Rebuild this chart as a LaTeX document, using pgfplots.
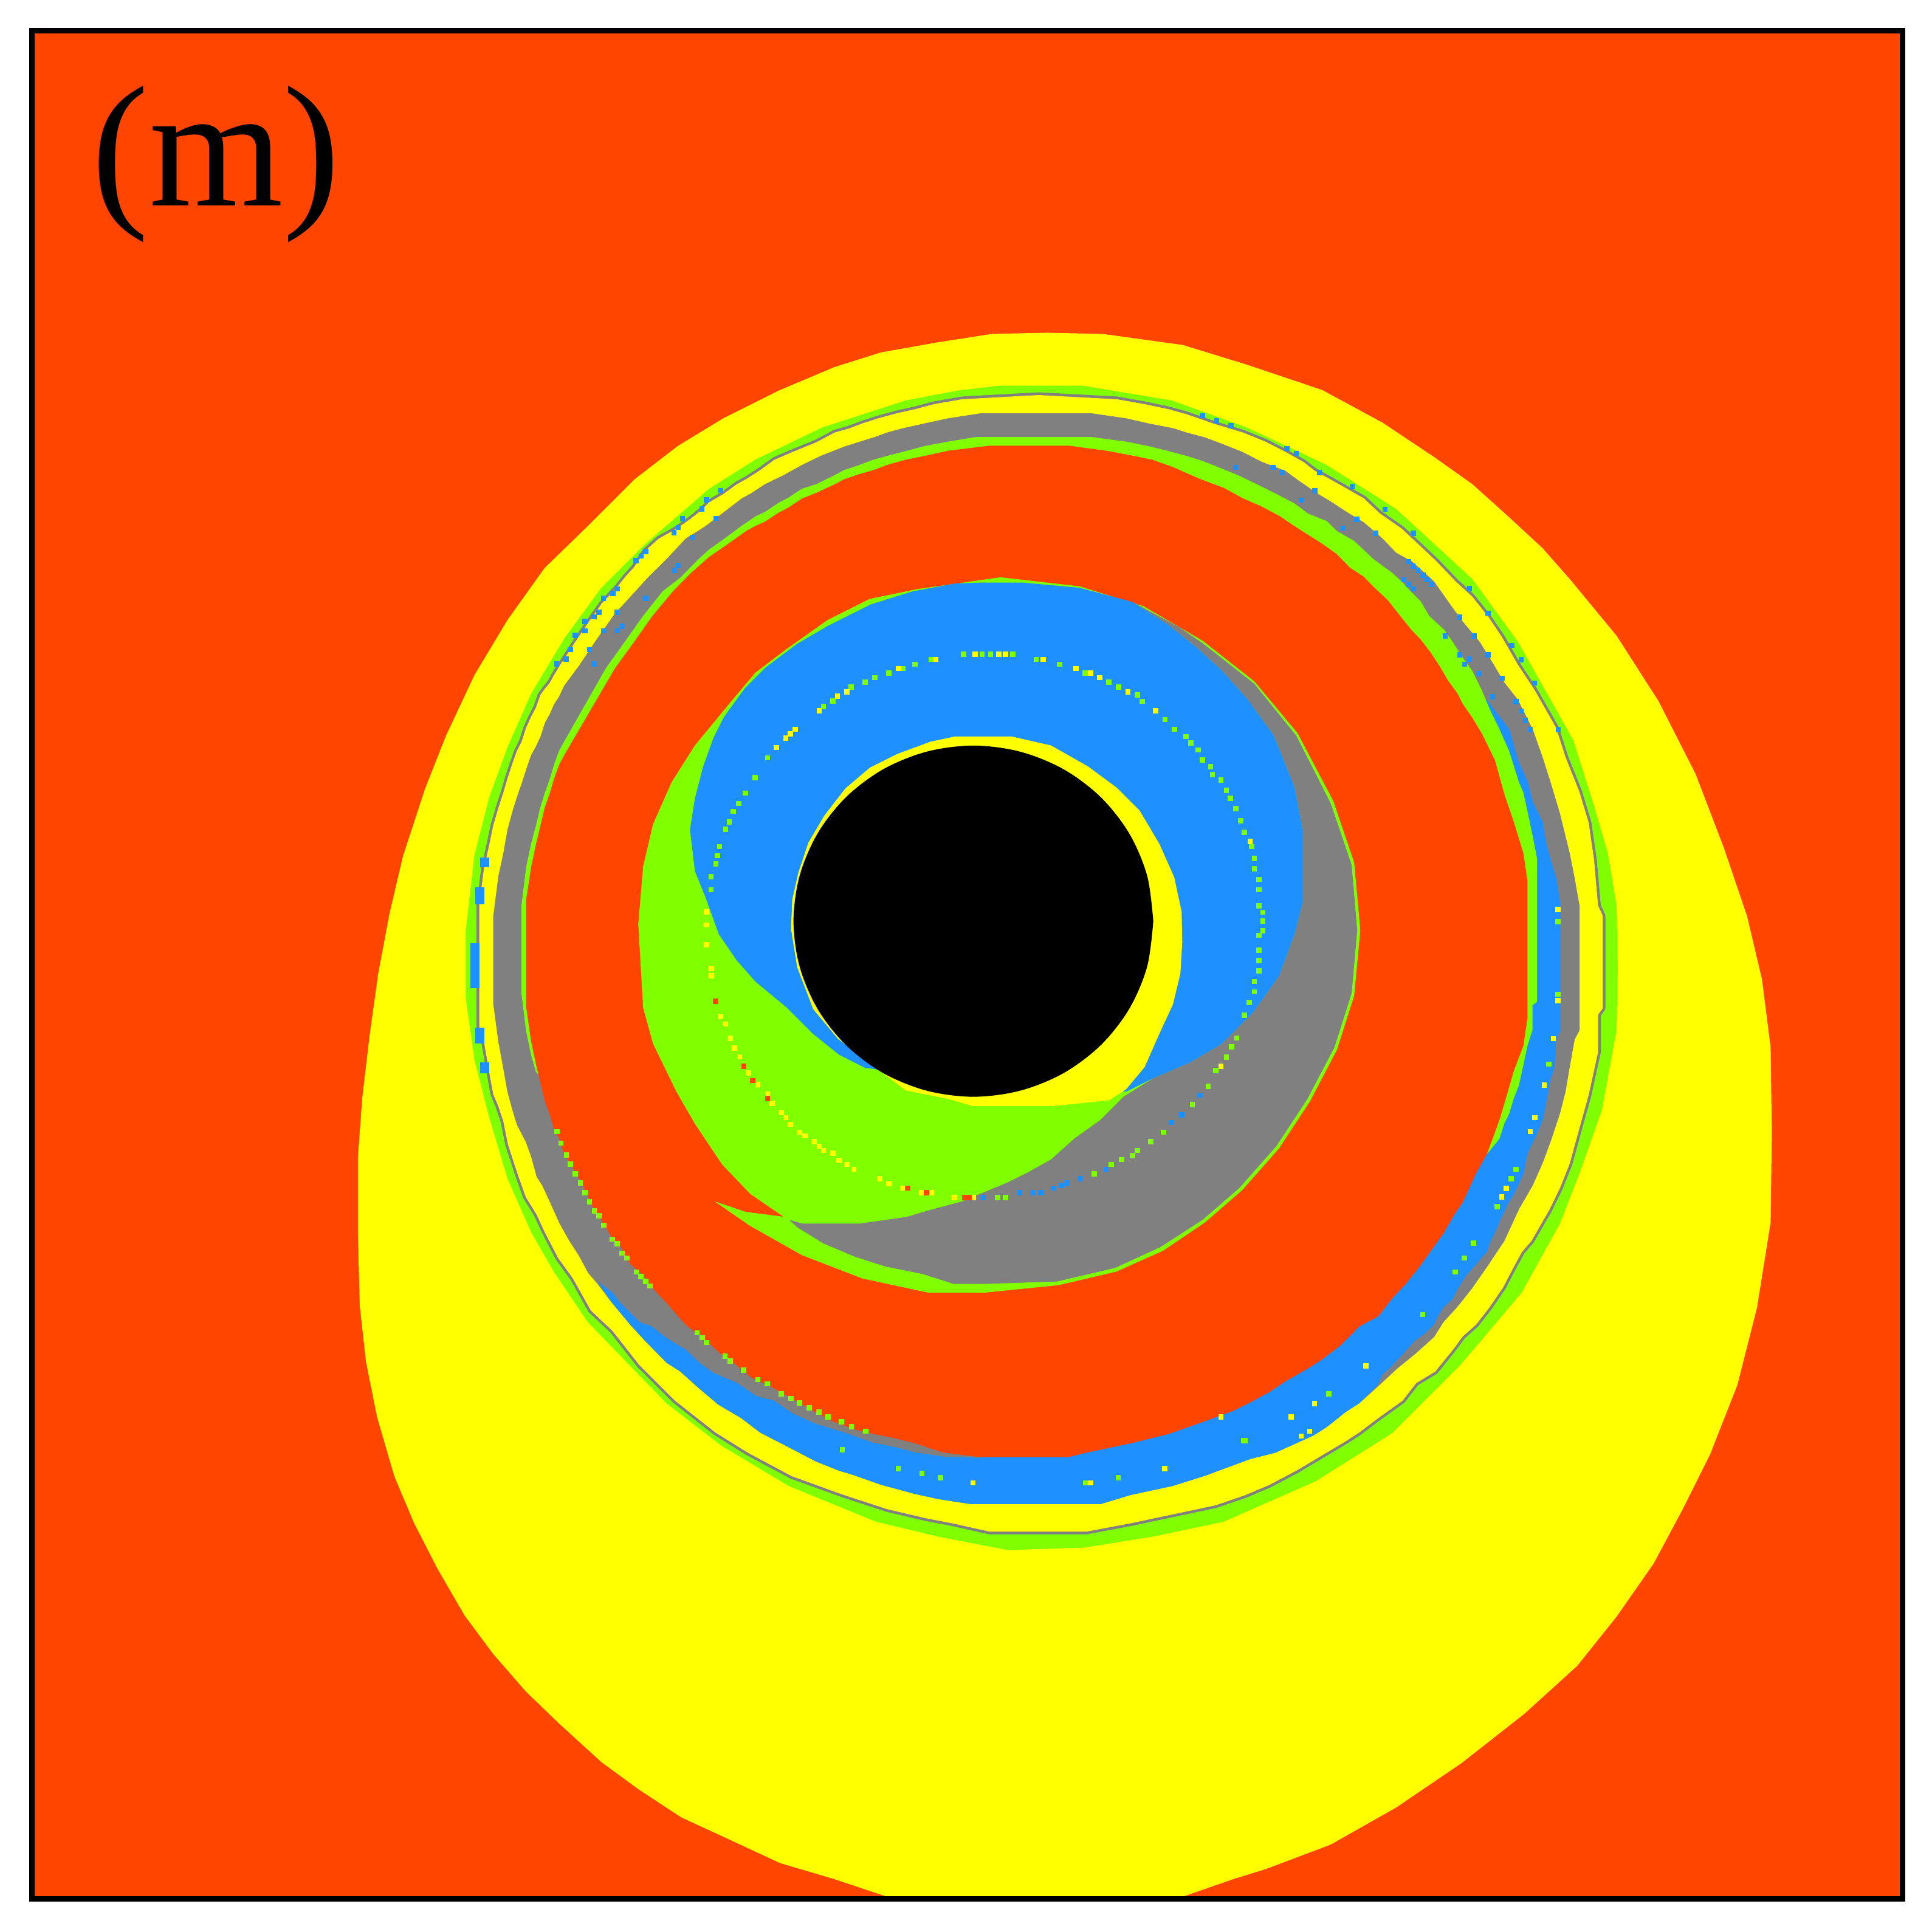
\documentclass[border=0pt]{standalone}
\usepackage{fontspec}
\setmainfont{Liberation Serif}
\usepackage{pgfplots}
\usepackage{pgfplotstable}
\pgfplotsset{compat=1.18}
\definecolor{bgorange}{HTML}{FF4500}
\definecolor{ylw}{HTML}{FFFF00}
\definecolor{lime}{HTML}{7FFF00}
\definecolor{dblue}{HTML}{1E90FF}
\definecolor{rgray}{HTML}{808080}
\pgfplotsset{
    region/.style={fill=#1, draw=none, forget plot},
    pix/.style={only marks, mark=square*, mark size=0.47pt, color=#1, mark options={line width=0pt}, forget plot},
}

% inner yellow ring, outer edge (used twice: gray halo, then yellow fill)
\pgfplotstableread[row sep=\\]{
x y\\
780.7 324\\ 843 320.6\\ 906.5 324\\ 929 328\\ 948 332\\ 962.5 336\\ 985.6 344\\ 1008.8 351\\ 1027 358.4\\ 1043 366.6\\ 1058 375\\ 1067 382\\ 1085 392\\ 1107 404.5\\ 1120 416.8\\ 1137.6 429\\ 1153 443.4\\ 1166 455.7\\ 1181.6 472\\ 1195 484.3\\ 1208 500.7\\ 1219 517\\ 1232 539.6\\ 1245.5 560\\ 1263 590.8\\ 1270.6 614.6\\ 1281.6 642\\ 1289.3 667.4\\ 1293.7 697.6\\ 1297 735\\ 1300.7 743\\ 1300.7 818.4\\ 1297 823.5\\ 1297 853.7\\ 1293.7 868.8\\ 1289.3 888.9\\ 1281.6 916.6\\ 1274 944.3\\ 1266 964.4\\ 1257.4 982\\ 1243 1007\\ 1235.3 1016\\ 1228.7 1028\\ 1220 1044.7\\ 1208.9 1061\\ 1198 1075\\ 1187 1084.8\\ 1180.3 1094\\ 1165 1113\\ 1149.4 1122.5\\ 1138.4 1136.7\\ 1118.6 1150.9\\ 1103 1162.7\\ 1092.2 1169.7\\ 1072.4 1181.5\\ 1052.6 1193.3\\ 1030.5 1205\\ 1010.7 1213.4\\ 986.5 1221.7\\ 917.6 1236.3\\ 882 1243\\ 803 1243\\ 772.9 1236.3\\ 751.5 1232.2\\ 720 1224.8\\ 697.4 1217.4\\ 684 1213\\ 642.5 1198\\ 607 1179\\ 580.8 1162.7\\ 547.8 1136.7\\ 519 1108\\ 497 1080\\ 479.5 1063.5\\ 465 1037.6\\ 453 1021\\ 442 999.8\\ 435.5 985.7\\ 426.7 971.5\\ 420 952.6\\ 412.3 929\\ 408.5 910\\ 404.4 897.7\\ 400.3 888\\ 397 870\\ 392.9 846\\ 389 833\\ 389 734\\ 392.9 704\\ 397 686\\ 400.3 670\\ 404.4 656\\ 408.5 643.4\\ 411.8 632\\ 415.9 619.5\\ 419.5 609.5\\ 423.3 602\\ 427 590.6\\ 431 581.8\\ 435 574.2\\ 438.6 564\\ 442.2 559\\ 446.3 554\\ 449.6 548\\ 453.8 541\\ 470.2 516\\ 476.8 506.3\\ 488.3 489.9\\ 500.7 476.7\\ 507.2 468.5\\ 514.6 460.3\\ 523.7 447\\ 534.4 437.3\\ 549.2 429\\ 560.7 420.9\\ 568.9 414.3\\ 575.5 407.7\\ 587 401\\ 598 393\\ 605.7 388.8\\ 617 381.5\\ 628.4 373.2\\ 643.5 366.7\\ 662.4 359\\ 670 355\\ 677.5 351\\ 688.8 347.8\\ 700 343.6\\ 712.7 339.5\\ 727.8 335.4\\ 743 332\\ 758 328\\
}\tabYout

\begin{document}
\begin{tikzpicture}
\begin{axis}[
    scale only axis,
    width=379.5pt,
    height=379pt,
    xmin=26, xmax=1544,
    ymin=25, ymax=1541,
    y dir=reverse,
    xtick=\empty, ytick=\empty,
    clip=false,
    axis on top,
    axis line style={black, line width=1.1pt},
    axis background/.style={fill=bgorange},
]
% page margins
\path (axis cs:0,0) rectangle (axis cs:1568,1568);

% big yellow blob
\addplot[region=ylw] coordinates {
(725,1541)(677,1525)(633,1512)(590,1492)(553,1475)(518,1452)(488,1430)(454,1399)(427,1373)(400,1342)(377,1311)(355,1273)(336,1236)(320,1198)(306,1150)(297,1105)(292,1060)(290.4,1000)(290.4,940)(294,891)(300,840)(307,790)(316,742)(327,695)(345,640)(362,597)(385,548)(412,503)(442,461)(477,427)(515,389)(550,362)(587,339.5)(632,317)(677,298)(715,286)(760,278)(805,271)(850,270)(895,271)(960,280)(1012,296)(1073,316.5)(1122,343)(1164,371)(1195,393)(1225,420)(1252,445)(1274,470)(1312,516)(1346,569)(1376,628)(1399,688)(1418,744)(1430,795)(1437,850)(1438,920)(1437,992)(1426,1061)(1410,1124)(1388,1180)(1365,1226)(1342,1269)(1312,1312)(1280,1352)(1237,1391)(1186,1431)(1133,1467)(1080,1497)(1027,1517)(1001,1525)(955,1541)
};

% outer green ring
\addplot[region=lime] coordinates {
(845,313)(879,313)(951,325)(1012,347)(1076,377)(1133,413)(1195,470)(1232,521)(1277,601)(1294,655)(1305,693)(1312,735)(1313,785)(1312,836)(1300,901)(1282,952)(1266,993)(1235,1049)(1185,1108)(1130,1163)(1068,1202)(993,1235)(936,1247)(880,1256)(818,1258)(761,1247)(711,1235)(640,1206)(585,1173)(541,1139)(508,1105)(477,1073)(450,1033)(431,1000)(412,957)(397,907)(385,860)(378,810)(378,755)(385,694)(397,647)(412,606)(431,563)(458,518)(488,477)(523,442)(575,397)(613,373)(667,347)(735,325)(777,317)(811,313)
};

% thin gray line, then the yellow ring
\addplot[fill=rgray, draw=rgray, line width=1.1pt, line join=round, forget plot] table[x=x,y=y]{\tabYout} -- cycle;
\addplot[region=ylw] table[x=x,y=y]{\tabYout};

% blue patches in the thin line on the left
\addplot[region=dblue] coordinates {(381.7,765.5)(389,765.5)(389,802)(381.7,802)};
\addplot[region=dblue] coordinates {(385.5,720)(392.9,720)(392.9,734)(385.5,734)};
\addplot[region=dblue] coordinates {(385.5,834)(392.9,834)(392.9,847)(385.5,847)};
\addplot[region=dblue] coordinates {(389.6,696)(397,696)(397,704)(389.6,704)};
\addplot[region=dblue] coordinates {(389.6,862)(397,862)(397,871)(389.6,871)};

% gray ring
\addplot[region=rgray] coordinates {
(796,335.4)(886,335.4)(914,339.5)(932,343.6)(952,347.5)(963,351)(978,355)(990,359.5)(1008,366.6)(1024,374.8)(1043,382)(1054,390)(1069,400.4)(1081,407.6)(1093.5,415.8)(1107,424)(1122,437)(1133,448.5)(1146,455.7)(1164,472)(1177,490.5)(1186,503)(1201,521)(1210,535.5)(1221,554)(1232,568)(1244,592)(1252,614.6)(1258.4,634.7)(1266,660)(1274,692.6)(1278,712.7)(1282,735.4)(1282,836)(1278,843.6)(1274,866)(1270.6,886)(1266,904)(1258.4,926.7)(1252,944)(1244,962)(1233,981)(1221,1007)(1207,1028)(1194.6,1045.8)(1182.5,1061)(1171.5,1073)(1164,1085)(1148.4,1099)(1134,1110.7)(1118.6,1125)(1103,1139)(1092,1146)(1077,1158)(1066,1165)(1035,1179)(1015,1184)(989,1193.6)(978,1197.7)(951.6,1206)(917.6,1213.3)(893,1220.7)(788,1220.7)(761.5,1216.6)(742.7,1212.5)(727.6,1208.4)(715,1205)(703.7,1201)(692.3,1197)(681,1193.6)(662,1186)(640,1174.5)(617,1162.7)(601.7,1151)(583,1140)(567.6,1127)(552,1113)(541,1106)(522.4,1087)(511.4,1075)(496,1056.5)(485,1042)(477.3,1033)(469.6,1018.7)(462,1007)(454,992.7)(446.5,976)(440,962)(435.5,955)(431,938.5)(426.7,926.7)(419.5,912.8)(415.9,901)(411.8,886)(408.5,867.5)(404.4,845)(400.3,814.6)(400.3,744)(404.4,711.4)(408.5,692.5)(411.8,673.7)(415.9,658.5)(419.5,647)(423.3,636)(427,624.6)(431,613)(435,605.7)(438.6,598)(442.2,586.8)(446.3,579.3)(449.6,571.7)(453.7,565.4)(457.8,556.6)(469.4,541)(485,517.8)(499,498)(511,485)(526,468.5)(541,453.7)(556.6,437)(572,427.4)(587,416)(602,404.5)(609.5,400.4)(620.8,393)(636,385.6)(651,377.3)(666,370)(685,362.5)(696,359)(709,355)(720,351)(731.6,347.8)(750.5,343.6)(769.4,339.5)
};

% blue crescent of the ring
\addplot[region=dblue] coordinates {
(1206,567)(1225,592)(1232,617)(1240,634.7)(1244,651)(1252,667)(1255,685)(1258.5,697.6)(1263,712.7)(1266.6,735)(1266.6,836)(1263,843.6)(1261.7,866)(1258.4,876)(1255,894)(1252,909)(1247.5,920)(1244,927)(1239.7,936)(1236.4,952.6)(1232,962)(1228.7,969)(1224.3,976)(1221,983)(1217.7,990)(1213.3,1000)(1209,1009)(1206.7,1016)(1198,1026)(1190,1035)(1182.5,1047)(1179,1054)(1171.5,1061)(1167,1068)(1163.8,1075)(1156,1082.4)(1148,1088.3)(1140.6,1096.6)(1133,1104.8)(1127.4,1110.7)(1122,1115.5)(1118,1124)(1103,1139)(1092,1146)(1077,1158)(1066,1165)(1035,1179)(1015,1184)(989,1193.6)(978,1197.7)(951.6,1206)(917.6,1213.3)(893,1220.7)(788,1220.7)(761.5,1216.6)(742.7,1212.5)(727.6,1208.4)(715,1205)(703.7,1201)(692.3,1197)(681,1193.6)(662,1186)(640,1174.5)(617,1162.7)(601.7,1151)(583,1140)(567.6,1127)(552,1113)(541,1106)(522.4,1087)(511.4,1075)(496,1056.5)(485,1040)(497,1049)(502.6,1056.5)(519,1073)(529,1076.5)(541,1086)(556.6,1095.4)(567.6,1106)(578.6,1114)(598.4,1122.5)(613.8,1133)(628,1136.7)(643.6,1147.3)(662.3,1155.6)(685.4,1162.7)(708.7,1170.9)(727.6,1174.7)(742.7,1178.8)(769,1182.6)(795,1183)(850,1170)(1000,1100)(1150,950)(1200,750)(1195,600)
};

% green lining of the hole
\addplot[region=lime] coordinates {
(792,354.7)(886,354.7)(914,358.4)(932,362)(948,366)(963,370)(975,373.8)(986,378)(1005.5,386)(1020,393)(1035,400.4)(1050.6,408.6)(1061.6,416.8)(1077,423)(1085,431)(1099,439)(1107,446.5)(1114.5,453.6)(1130,465)(1137.6,472)(1145,480)(1153,488)(1160,500)(1172,511)(1179,521)(1187,533.5)(1195,544.7)(1202.5,560)(1209,575.4)(1217,592)(1224.8,609.5)(1232.7,634.7)(1236.4,643.5)(1239.7,658.6)(1243.7,677.5)(1247.4,696.4)(1247.4,813)(1243.7,816)(1243.7,836)(1239.7,848.6)(1236,866)(1232.7,881)(1228.7,891)(1224.8,904)(1221,911.6)(1217,924)(1200,945)(1000,1100)(700,1100)(480,950)(445,880)(435,870)(431,856)(427,837)(423.3,807)(423.3,734)(427,704)(431,685)(435,670)(438.6,655)(442.2,643.4)(446.3,632)(449.6,620.8)(453.7,609.5)(457.8,602)(491.6,542.5)(507,521)(522,499.8)(537.7,480)(552.5,468.5)(567,453.7)(575.5,446)(590,435.6)(602,426.7)(613.3,419)(620.8,415.5)(632,408)(639.7,404)(651,396.6)(662.4,393)(677.5,385.6)(685,381.5)(697.6,377.3)(709,373)(720,370)(735.4,366)(750.5,362)(769.4,358.4)
};

% orange hole
\addplot[region=bgorange] coordinates {
(803,361.7)(867.5,361.7)(898,365.8)(920.4,370)(935.5,373.2)(951.8,379)(974.6,389)(993.4,396)(1008.8,404.5)(1023,410.6)(1038.5,418.8)(1050.6,427)(1061.6,434)(1072.6,441)(1084.7,449.5)(1095.7,460.8)(1106.8,468)(1114.5,476)(1126.6,487.4)(1133,495.6)(1145.3,511)(1153,519)(1160.7,529)(1168.4,540.6)(1175,552)(1183,563)(1187,571)(1195,582.6)(1202.5,595)(1213.3,617)(1221,644.8)(1228.7,667.4)(1236.4,692.6)(1239.7,715)(1239.7,826)(1236.4,848.6)(1228.7,868.8)(1224.3,884)(1217.7,906.5)(1213.3,919)(1206.7,936.7)(1198,952)(1187,976)(1180.3,985.7)(1171.5,1001)(1163.8,1011.6)(1152.8,1027)(1140.6,1042.3)(1129.6,1054)(1118.6,1068.3)(1103.2,1076.5)(1087.8,1092)(1072.4,1103.7)(1061.4,1110.7)(1042.6,1121.4)(1030.5,1129.6)(1015,1138)(1000.8,1145)(980.5,1152.5)(947.8,1164)(917.6,1171.4)(882.4,1178.8)(867,1182.6)(795.5,1182.6)(765.3,1178.8)(742.7,1171.4)(726.3,1167.3)(710,1164)(693,1160)(674.4,1153)(660,1145)(643.6,1135.5)(624.8,1125)(609.4,1117.8)(598.4,1108.4)(585.2,1099)(572,1087)(556.6,1075.3)(541,1057.6)(530,1045.8)(522.4,1035.2)(511.4,1025.8)(503.7,1011.6)(496,1003.4)(488.3,990.4)(480.6,978.6)(473,962)(465,948)(457.5,936)(454,924.3)(449.6,916.5)(446.3,905)(442.2,894)(438.6,879)(435,863.7)(431,845)(427,817)(427,730)(431,704)(435,685)(438.6,670)(442.2,655)(446.3,643.4)(449.6,632)(453.7,620.8)(457.8,613)(499,542.5)(514.6,521)(529.4,500)(546,480)(560.7,465)(575.5,452)(592,440.6)(605.7,430.8)(613.3,426.7)(620.8,423.4)(632,416)(639.7,412)(651,404.5)(662.4,400)(677.5,393)(685,389)(697.6,384.7)(709,381.5)(720,377.3)(735.4,373)(750.5,370)(769.4,365.8)
};

% inner disc: green shell with the tail
\addplot[region=lime] coordinates {
(812,468.5)(876,475.8)(928,492)(976,520)(1018,553)(1053,595)(1082,650)(1099,700)(1104,755)(1099,808)(1085,852)(1063,894)(1038,932)(1008,966)(978,992)(944,1015)(906,1032)(859,1043)(800,1049)(753,1049)(700,1037.6)(651,1018.7)(609,995)(580,975)(605,983.5)(636,987.5)(609,969)(586,945)(564,912)(549,886)(530,847)(522,818)(518,750)(522,703)(530,669)(545,635)(564,605)(592,571)(613,546)(638,527)(672,503)(706,486)(745,478)
};

% gray part of the disc
\addplot[region=rgray] coordinates {
(919,488.5)(957,509)(976,522)(1018,555)(1052,597)(1080,652)(1097,702)(1101.5,755)(1097,806)(1083,850)(1061,892)(1036,930)(1006,964)(976,990)(942,1012)(905,1029)(858,1040)(800,1042)(774,1042)(749,1034)(719,1028)(694,1020)(668,1009)(647,996)(640.6,990)(651,993)(698,993)(736,987.6)(753,982.5)(781,975)(800,967)(817,960)(834,951.6)(853,941)(872,924)(893,909)(912,890)(936,875)(965.6,862.3)(991,847.5)(1016.6,822)(1038,792)(1050.6,758)(1057,732.8)(1057,673)(1050.6,639)(1033.6,596.8)(1012,567)(991,543.7)(970,524.6)(948.6,507.6)
};

% blue part of the disc
\addplot[region=dblue] coordinates {
(774.5,473.6)(796,472.8)(830,472.8)(876,477)(919,488.5)(948.6,507.6)(970,524.6)(991,543.7)(1012,567)(1033.6,596.8)(1050.6,639)(1057,673)(1057,732.8)(1050.6,758)(1038,792)(1016.6,822)(991,847.5)(965.6,862.3)(936,875)(914.6,885.7)(905,886)(800,880)(702,866.6)(681,856)(659.8,839)(638.5,817.7)(613,796.5)(598,779.5)(583.3,758)(572.7,728.5)(564,707)(560,673.3)(564,648)(570.6,622.3)(579,599)(587.5,582)(604.5,558.6)(621.5,541.6)(647,522.5)(672.5,507.6)(706.5,490.6)(740.5,480)
};

% yellow crescent and black centre
\addplot[region=ylw] coordinates {
(775,597.7)(821,597.7)(853,605)(883,622)(906,639)(925,658)(941,685)(953,712)(959,740)(959.5,765)(958,790)(952,815)(940,841)(929,866)(914,884)(900,893)(855,897.6)(789,897.6)(770,892)(735,885)(706,863)(680,843)(660,819)(647,785)(642,754)(643,730)(648,708)(656,684)(669,662)(686,640)(706,623)(728,612)(755,602)
};
\addplot[region=black, smooth, tension=0.55] coordinates {
(936,747.6)(931,784.5)(916.4,818.9)(893.2,848.4)(863,871)(827.8,885.2)(790,890.1)(752.2,885.2)(717,871)(686.8,848.4)(663.6,818.9)(649,784.5)(644,747.6)(649,710.7)(663.6,676.3)(686.8,646.8)(717,624.2)(752.2,610)(790,605.1)(827.8,610)(863,624.2)(893.2,646.8)(916.4,676.3)(931,710.7)(936,747.6)
};

% single pixels: green
\addplot[pix=lime] coordinates {
(613,631)(605,643.6)(599.4,652)(595,658.4)(591.8,667)(589,673)(584,687)(582.4,694.5)(581,701)(577,711.6)(577,722)(623,615)
(668.3,573.5)(676,568.8)(690.8,557.7)(702.2,553.5)(709.9,550)(721.4,546.3)(732.8,542.5)(742.6,539)(755.8,535.2)(782,531)(797,531)(804,531)(822,531)(841,535.2)(860,539)(880.6,546.3)(900,553.5)(907.8,557.7)(923,564)(927,569.2)(945.6,584)(953.3,591.8)(962.7,597.7)(966.5,603)(972.4,608.7)(976,616.8)(982.6,622.3)(984,628.7)(991,633)(995.4,641.4)(998.7,647.8)(1003,656.3)(1007,666)(1010,675.4)(1015.7,687)(1018,696.7)(1018,705)(1021.7,713.6)(1021.7,722)(1021.7,735)(1025,740.4)(1025,747.6)(1025,755.3)(1021.7,759)(1021.7,771)(1021.7,779.5)(1021.7,788)(1018,796.5)(1018,805)(1014,813.5)(1010,824)
(809.7,971.9)(816,971.9)(888,952.8)(902,945)(910.4,941)(919,938)(923,933.7)(933.8,926.5)(944.4,918.8)(967.8,896.3)(980.5,881.5)(986.8,868.7)(995.4,858)(999.6,849.6)(1003.8,842.4)
(1230.5,949)(1226.5,956.6)(1215,979.3)(1196,1009)(1188.4,1021)(1181,1032.4)(1154.7,1066.8)(1078.5,1131.3)(1010.3,1169.3)(729,1192)(748.2,1195.7)(763.3,1199.3)(881,1203.5)(907.5,1199.3)(683.6,1176.7)(1009.5,1169)(1264.4,748)(1264.4,807)(1257,863.7)
(452,918.4)(455.3,927.8)(459.7,937.3)(463,944.8)(467,952.6)(471,960.2)(474.7,968)(478.4,975.5)(482.4,982.8)(486,986.8)(489.9,994.4)(497,1005.7)(501,1009.3)(504.8,1017)(508.8,1021)(516.5,1032.4)(520.2,1036)(524,1040)(527.5,1043.7)(565.8,1081.7)(569.8,1085.5)(573.5,1089.5)(588.5,1100.6)(592.5,1104.6)(603.5,1112)(615,1119.7)(622.6,1123)(634,1131.3)(641.8,1135)(649,1138.6)(656.8,1142.6)(664.5,1146)(672,1150)(683,1154)(691,1158)(702.6,1161.5)
};

% single pixels: yellow
\addplot[pix=ylw] coordinates {
(630,606.6)(637.7,599)(641.5,595.6)(645.3,591.8)(664.9,576.9)(679.7,565)(687.4,561.6)(729.4,542.5)(759.6,535.2)(791.4,531)(810.6,531)(816,531)(846.7,535.2)(873.4,542.5)(885,546.3)(892.6,550)(915.5,561.6)(938,576.9)(1014.5,683)
(573.5,740)(573.5,750.6)(573.5,766.8)(577.3,785.9)(577.3,792)(584.6,825)(588.8,831)(592.6,842.8)(596,850.5)(600.3,857.7)(607.5,870.8)(615,880.2)(623,887.8)(626.6,895.5)(634,902.7)(637.7,907)(641.5,912.5)(649,918.8)(653.4,921.8)(660.6,926.5)(664.9,930.3)(668.3,933.7)(676,935.8)(681,941.8)(687.4,945)(693,949)(714,956.6)(721.4,960.5)(732.8,964.3)(748,968)(755.8,968)(774.5,971.9)(790,971.9)(991,865.3)
(1242,918.4)(1222.6,964.4)(1218.8,971.5)(1108.7,1108.4)(1066.9,1139)(1048,1150)(1063,1161.5)(1056,1165.5)(1002,1192)(991,1150)(789.7,1203.5)(885,1203.5)(945.3,1192)(1264.4,738)(1264.4,812)(1260.7,843)(1253.4,880.6)(1245.7,907)
};

% single pixels: red
\addplot[pix=bgorange] coordinates {
(580.7,812.6)(603.7,865.3)(611,877)(623,891.6)(736.6,964.3)(752,968)(783,971.9)(786.4,971.9)
};

% single pixels: blue
\addplot[pix=dblue] coordinates {
(797.8,971.9)(827.6,968)(838,968)(844.6,968)(855,964.3)(861.5,962)(865.8,960)(876.4,956.6)(897.7,949)(950.8,911)(959,904.8)(974,888.7)
(585,398)(573.3,405.7)(569.7,413)(554,420.9)(550.5,428.2)(547,432.4)(524,447.5)(520.4,451.3)(516.3,455)(501,478)(497.4,481.7)(489.8,485.5)(486,496.8)(482.2,500.6)(474.7,504.4)(474.7,512)(467,515.7)(463,527.2)(459.4,535)(451.8,538.7)
(581,420.8)(562,436)(550.5,459)(547,462.8)(524,485.5)(501,496.8)(504.8,508.3)(490,512)(501,512)(478.5,527.2)(482.2,538.7)
(976,337.4)(987.4,341.4)(999,345.5)(1044.4,364)(1052,368)(1070.9,383.4)(1097.5,394.9)(1124,413.3)(1147,432.7)(1192.6,477.8)(1207.6,497.6)(1226.8,523.8)(1234.5,535.5)(1245.5,554.3)(1264.6,592)
(1002.8,379.3)(1033,379.3)(1040.7,383.4)(1067,398.4)(1056,406)(1101,421.3)(1090,428.6)(1116.7,432.7)(1143,455.7)(1146.8,459.4)(1150.8,463)(1154.8,466.7)(1158.3,470.6)(1161.8,474.3)(1139.4,470.6)(1143,474.3)(1146.8,478)(1184.7,501)(1173,516)(1196.4,516)(1184.7,531.4)(1192.6,535)(1207.6,531.4)(1188.7,539)(1200,546.8)(1219,550.4)(1211.3,565.6)(1230.5,569.3)(1234.5,577)(1238,584.8)(1242,592)
};

\node[anchor=base west, inner sep=0pt, text=black] at (axis cs:73.5,167) {\fontsize{35}{35}\selectfont (m)};
\end{axis}
\end{tikzpicture}
\end{document}
